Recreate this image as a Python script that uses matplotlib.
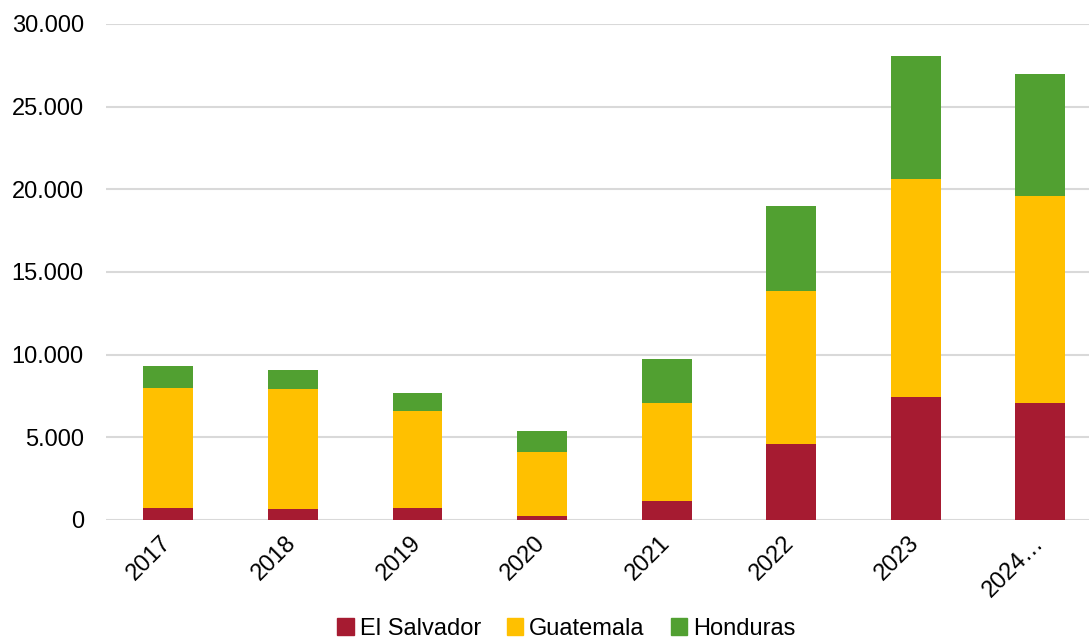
import numpy as np
import matplotlib
matplotlib.use("Agg")
import matplotlib.pyplot as plt
from matplotlib.patches import Patch

# stacked values per year
years = ["2017", "2018", "2019", "2020", "2021", "2022", "2023", "2024\u2026"]
el_salvador = [750, 670, 750, 260, 1170, 4600, 7450, 7050]
guatemala = [7250, 7250, 5830, 3840, 5930, 9250, 13170, 12550]
honduras = [1320, 1150, 1120, 1300, 2640, 5150, 7420, 7390]

series_names = ["El Salvador", "Guatemala", "Honduras"]
colors = ["#A61B31", "#FFC000", "#51A031"]

plt.rcParams['font.family'] = ['Liberation Sans', 'DejaVu Sans']

fig = plt.figure(figsize=(10.89, 6.42), dpi=100)
ax = fig.add_axes([106/1089, 122/642, 983/1089, 496/642])

x = np.arange(len(years))
w = 0.4
bottom = np.zeros(len(years))
for vals, c in zip([el_salvador, guatemala, honduras], colors):
    ax.bar(x, vals, w, bottom=bottom, color=c, zorder=3)
    bottom += np.array(vals)

ax.set_ylim(0, 30000)
ax.set_xlim(-0.5, 7.39)
ax.set_yticks(range(0, 30001, 5000))
ax.set_yticklabels([f"{v:,}".replace(",", ".") for v in range(0, 30001, 5000)], fontsize=17)
ax.set_xticks(x)
ax.set_xticklabels(years, rotation=45, ha="right", va="center", rotation_mode="anchor", fontsize=17)
ax.tick_params(length=0)
ax.tick_params(axis="x", pad=14)
ax.tick_params(axis="y", pad=16)
ax.grid(axis="y", color="#D9D9D9", linewidth=1.5, zorder=0)
for s in ax.spines.values():
    s.set_visible(False)

handles = [Patch(color=c, label=n) for c, n in zip(colors, series_names)]
fig.legend(handles=handles, loc="center", bbox_to_anchor=(0.52, 1 - 629/642), ncol=3,
           frameon=False, fontsize=17, handlelength=0.7, handleheight=0.7,
           handletextpad=0.25, columnspacing=1.1, bbox_transform=fig.transFigure)

fig.savefig("out.png", dpi=100)
